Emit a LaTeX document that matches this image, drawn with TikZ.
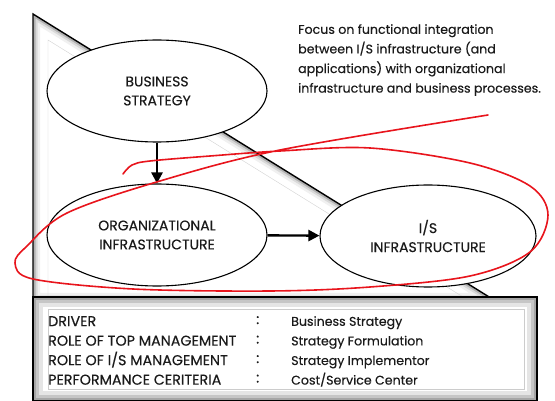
\documentclass[tikz,border=0pt]{standalone}
\usepackage{fontspec}
\setmainfont{Poppins}[FakeBold=0.35]
\usetikzlibrary{shapes.geometric,arrows.meta}
\definecolor{ink}{HTML}{1A1A1A}
\definecolor{marker}{HTML}{E8141C}
\begin{document}
\begin{tikzpicture}[x=1pt,y=-1pt,
    bubble/.style={ellipse,draw,line width=1.1pt,fill=white,text=ink,align=center,
      minimum width=220pt,minimum height=102pt,inner sep=0pt,
      font=\fontsize{14}{19}\selectfont},
    link/.style={-{Triangle[length=11pt,width=11pt]},line width=2.4pt},
    listtext/.style={text=ink,align=left,inner sep=0pt,
      font=\fontsize{12.6}{19.6}\selectfont},
    capstext/.style={listtext,font=\fontsize{14.3}{19.5}\selectfont}]
  \useasboundingbox (0,0) rectangle (555,401);
  % triangle with bevel
  \fill[white] (33,14) -- (33,300) -- (494,300) -- cycle;
  \scope
  \clip (33,14) -- (33,300) -- (494,300) -- cycle;
  \draw[line width=14pt,gray!12] (33,14) -- (33,300) -- (494,300) -- cycle;
  \draw[line width=9pt,gray!30] (33,14) -- (33,300) -- (494,300) -- cycle;
  \draw[line width=5pt,gray!60] (33,14) -- (33,300) -- (494,300) -- cycle;
  \endscope
  \draw[line width=1.4pt] (33,300) -- (33,14) -- (494,300);
  \draw[gray!35] (48,300) -- (48,40) -- (468,300);
  % bottom box
  \fill[white] (33,297) rectangle (537,401);
  \scope
  \clip (33,297) rectangle (537,401);
  \draw[line width=20pt,gray!20] (33,297) rectangle (537,401);
  \draw[line width=12pt,gray!45] (33,297) rectangle (537,401);
  \draw[line width=6pt,gray!70] (33,297) rectangle (537,401);
  \endscope
  \draw[line width=1.4pt] (33,297) rectangle (537,401);
  \draw[fill=white,draw=gray!40] (48,309) rectangle (524,389);
  % ellipses
  \node[bubble] (strategy) at (157,91) {BUSINESS\\STRATEGY};
  \node[bubble] (orgInfra) at (157,235) {ORGANIZATIONAL\\INFRASTRUCTURE};
  \node[bubble,minimum width=216pt] (isInfra) at (428,236) {I/S\\INFRASTRUCTURE};
  \draw[link] (strategy) -- (orgInfra);
  \draw[link] (orgInfra) -- (isInfra);
  % note
  \node[listtext,anchor=north west] (focus) at (298,24)
    {Focus on functional integration\\between I/S infrastructure (and\\
     applications) with organizational\\infrastructure and business processes.};
  % table
  \node[capstext,anchor=north west] (roles) at (48,316)
    {DRIVER\\ROLE OF TOP MANAGEMENT\\ROLE OF I/S MANAGEMENT\\PERFORMANCE CERITERIA};
  \node[capstext,anchor=north west] (colons) at (256,316) {:\\:\\:\\:};
  \node[listtext,anchor=north west] (answers) at (291,316)
    {Business Strategy\\Strategy Formulation\\Strategy Implementor\\Cost/Service Center};
  % red loop
  \draw[marker,line width=1.6pt,line cap=round] plot[smooth,tension=0.55] coordinates {
    (123,174) (132,165) (150,161) (210,156) (280,151) (370,148) (470,163)
    (530,186) (548,215) (530,252) (470,276) (370,287) (270,291) (133,289)
    (33,279) (15,263) (27,246) (67,213) (160,181) (280,150) (488,115)};
\end{tikzpicture}
\end{document}
